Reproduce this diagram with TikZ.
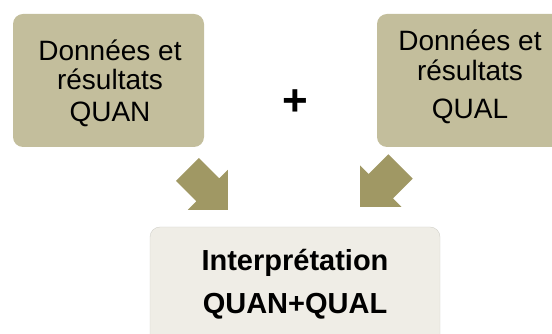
\documentclass[tikz,border=0pt]{standalone}
\usepackage{fontspec}
\setmainfont{Liberation Sans}
\usetikzlibrary{shapes.arrows}
\definecolor{datatan}{RGB}{195,190,156}
\definecolor{arrowolive}{RGB}{160,152,100}
\definecolor{interbeige}{RGB}{239,237,230}
\tikzset{
  databox/.style={fill=datatan,rounded corners=10pt,minimum height=133pt,inner sep=0pt},
  datatext/.style={align=center,inner sep=0pt,font=\fontsize{28}{29.3}\selectfont},
  fatarrow/.style={single arrow,fill=arrowolive,inner xsep=2pt,inner ysep=16pt,
    single arrow head extend=12pt,minimum height=57pt,anchor=tip,rotate=#1}
}
\begin{document}
\begin{tikzpicture}[x=1pt,y=1pt]
  \useasboundingbox (0,0) rectangle (552,334);
  % the two data boxes
  \node[databox,minimum width=191pt] (quanbox) at (108.5,253.5) {};
  \node[databox,minimum width=186pt] (qualbox) at (470,253.5) {};
  \node[datatext] (quan) at (110,251) {Données et\\résultats\\[2.7pt]QUAN};
  \node[datatext] (qual) at (470,257) {Données et\\résultats\\[9pt]QUAL};
  \node[font=\fontsize{44}{44}\selectfont\bfseries] (plus) at (295.5,231) {+};
  % interpretation box
  \node[fill=interbeige,draw=interbeige!88!black,rounded corners=10pt,minimum width=290pt,
    minimum height=117pt] (interbox) at (295,48.5) {};
  \node[align=center,inner sep=0pt,font=\fontsize{29}{43}\selectfont\bfseries]
    (interp) at (295,49.5) {Interprétation\\QUAN+QUAL};
  % arrows
  \node[fatarrow=-45] (arrquan) at (228,124) {};
  \node[fatarrow=-135,inner ysep=17pt] (arrqual) at (360,127) {};
\end{tikzpicture}
\end{document}
